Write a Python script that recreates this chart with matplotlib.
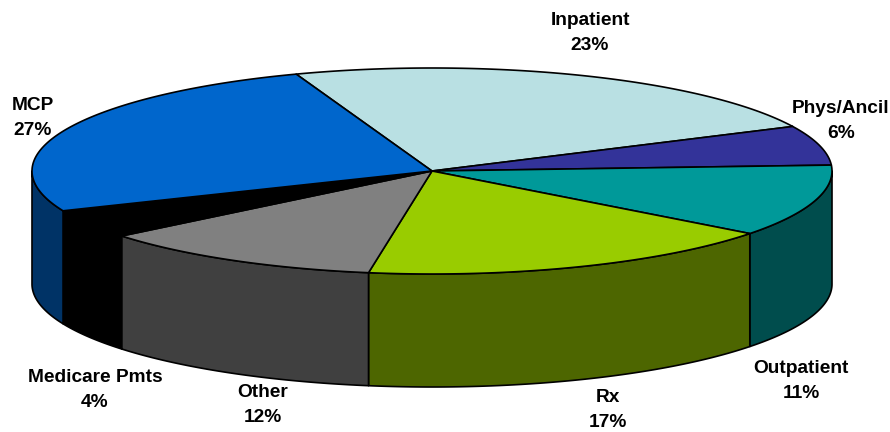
import matplotlib
matplotlib.use('Agg')
import matplotlib.pyplot as plt
import numpy as np
from matplotlib.patches import Polygon

plt.rcParams['font.family'] = 'Liberation Sans'

# Slices clockwise from the MCP/Inpatient edge. Shares are read from the drawn
# wedges, the percent labels are what the chart prints
categories = ['Inpatient', 'Phys/Ancil', 'Outpatient', 'Rx', 'Other', 'Medicare Pmts', 'MCP']
pct_labels = ['23%', '6%', '11%', '17%', '12%', '4%', '27%']
shares = [23.4, 6.2, 11.3, 17.15, 11.6, 4.55, 25.8]
top_colors = ['#B9E0E3', '#333399', '#009999', '#99CC00', '#808080', '#000000', '#0066CC']
wall_colors = ['#5D7072', '#1A1A4D', '#004D4D', '#4D6600', '#404040', '#000000', '#003366']

# Pie geometry, in pixels
cx, cy = 432, 171
rx, ry = 400, 103
depth = 113
start_angle = 109.85

label_pos = [(590, 33), (841, 121), (801, 381), (608, 410), (263, 405), (95, 390), (33, 118)]


def rim(a0, a1):
    t = np.radians(np.linspace(a0, a1, 200))
    return cx + rx * np.cos(t), cy - ry * np.sin(t)


fig = plt.figure(figsize=(8.9, 4.32), dpi=100)
ax = fig.add_axes([0, 0, 1, 1])
ax.set_xlim(0, 890)
ax.set_ylim(432, 0)
ax.axis('off')

edges = start_angle - np.cumsum([0] + shares) * 360 / sum(shares)

# Side walls, only the part facing the viewer
for i in range(len(shares)):
    hi = min(edges[i], 0)
    lo = max(edges[i + 1], -180)
    if hi <= lo:
        continue
    x, y = rim(hi, lo)
    pts = np.r_[np.c_[x, y], np.c_[x[::-1], y[::-1] + depth]]
    ax.add_patch(Polygon(pts, closed=True, fc=wall_colors[i], ec='black', lw=1.2, joinstyle='round'))

# Top face
for i in range(len(shares)):
    x, y = rim(edges[i], edges[i + 1])
    pts = np.r_[[[cx, cy]], np.c_[x, y]]
    ax.add_patch(Polygon(pts, closed=True, fc=top_colors[i], ec='black', lw=1.2, joinstyle='round'))

for name, pct, pos in zip(categories, pct_labels, label_pos):
    ax.text(pos[0], pos[1], name + '\n' + pct, ha='center', va='center', fontsize=13.8,
            fontweight='bold', color='black', linespacing=1.65)

fig.savefig('out.png', dpi=100)
